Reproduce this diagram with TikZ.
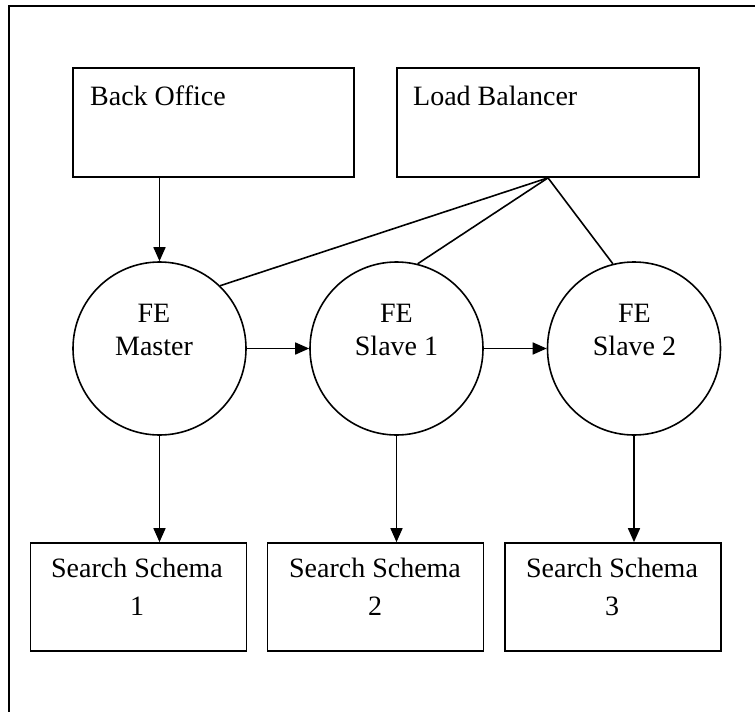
\documentclass[tikz,border=0pt]{standalone}
\usepackage{fontspec}
\setmainfont{Liberation Serif}
\usetikzlibrary{arrows.meta}

\tikzset{
  box/.style={draw, line width=1.7pt, rectangle, inner sep=0pt},
  topbox/.style={box, minimum width=#1, minimum height=109pt},
  schemabox/.style={box, minimum width=216pt, minimum height=108pt},
  fe/.style={draw, line width=1.6pt, circle, minimum size=173pt, inner sep=0pt},
  lbl/.style={inner sep=0pt, align=center, font=\fontsize{28}{33}\selectfont},
  schematext/.style={lbl, font=\fontsize{28}{38}\selectfont},
  link/.style={line width=1.6pt},
  flow/.style={line width=1.6pt, -{Triangle[length=14pt,width=12pt]}}
}

\begin{document}
\begin{tikzpicture}[x=1pt,y=-1pt]
\useasboundingbox (0,0) rectangle (755,712);
% frame
\draw[line width=2pt] (755,6) -- (9,6) -- (9,712);

% top row
\node[topbox=281pt] (backoffice) at (213.5,122.5) {};
\node[topbox=302pt] (balancer) at (548,122.5) {};
\node[lbl, anchor=base west] (backofficetext) at (90,105) {Back Office};
\node[lbl, anchor=base west] (balancertext) at (413,105) {Load Balancer};

% front ends
\node[fe] (master) at (159.5,348.5) {};
\node[fe] (slaveone) at (396.5,348.5) {};
\node[fe] (slavetwo) at (634,348.5) {};
\node[lbl, anchor=north] (mastertext) at (154,303.5) {FE\\Master};
\node[lbl, anchor=north] (slaveonetext) at (396.5,303.5) {FE\\Slave 1};
\node[lbl, anchor=north] (slavetwotext) at (634.5,303.5) {FE\\Slave 2};

% search schemas
\node[schemabox] (schemaone) at (138.5,597) {};
\node[schemabox] (schematwo) at (375.5,597) {};
\node[schemabox] (schemathree) at (613,597) {};
\node[schematext, anchor=north] (schemaonetext) at (137,557.5) {Search Schema\\1};
\node[schematext, anchor=north] (schematwotext) at (375,557.5) {Search Schema\\2};
\node[schematext, anchor=north] (schemathreetext) at (612,557.5) {Search Schema\\3};

% connectors
\draw[flow] (master.north |- backoffice.south) -- (master.north);
\draw[link] (balancer.south) -- (master.46);
\draw[link] (balancer.south) -- (slaveone.76);
\draw[link] (balancer.south) -- (slavetwo.104);
\draw[flow] (master.east) -- (slaveone.west);
\draw[flow] (slaveone.east) -- (slavetwo.west);
\draw[flow] (master.south) -- (master.south |- schemaone.north);
\draw[flow] (slaveone.south) -- (slaveone.south |- schematwo.north);
\draw[flow] (slavetwo.south) -- (slavetwo.south |- schemathree.north);
\end{tikzpicture}
\end{document}
